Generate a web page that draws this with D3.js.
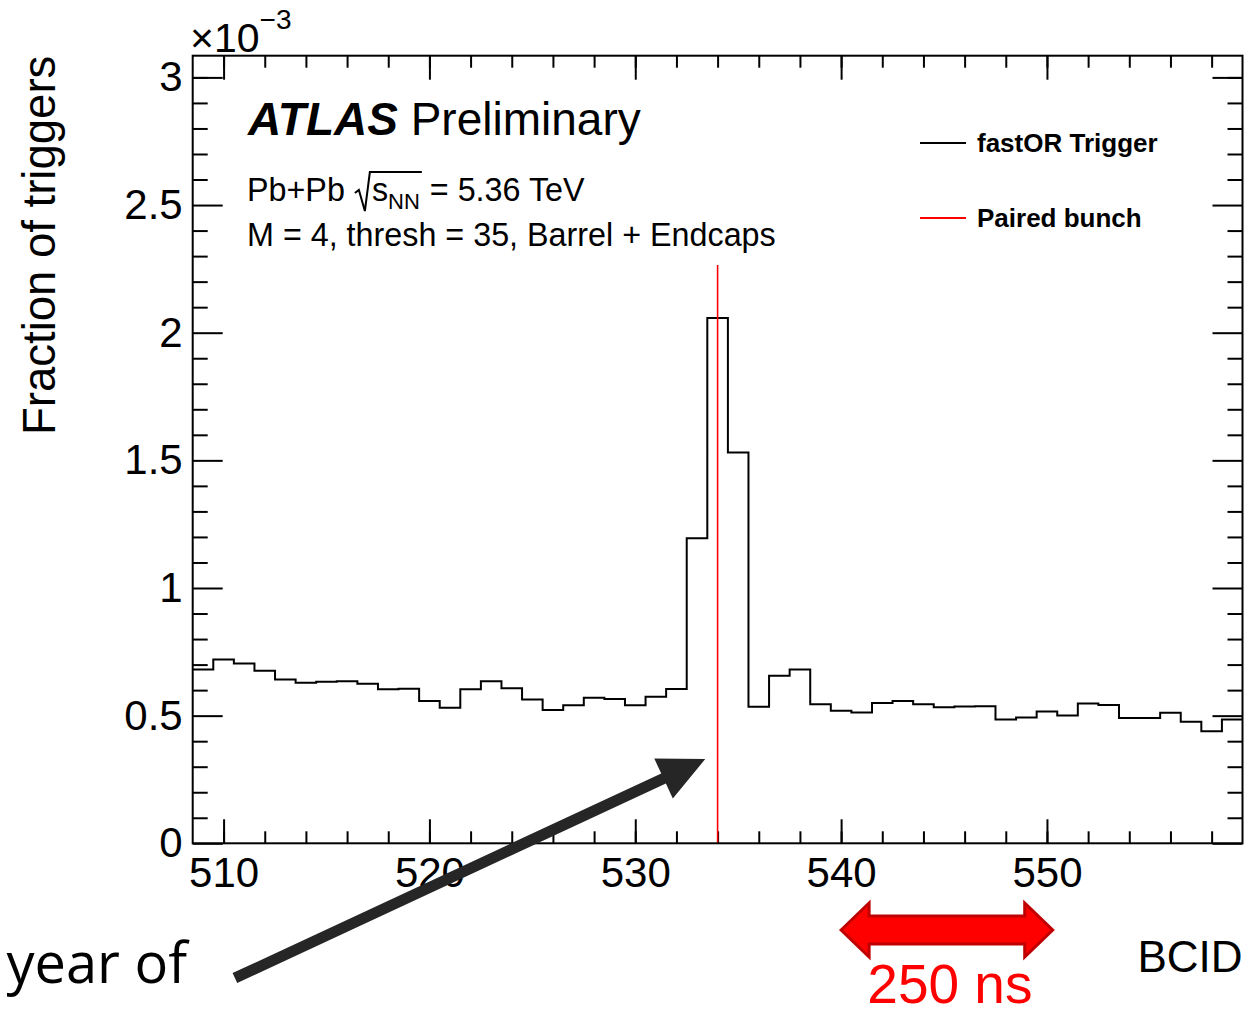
<!DOCTYPE html>
<html lang="en">
<head>
    <title>fastOR trigger BCID</title>
    <meta charset="utf-8">
    <script src="https://d3js.org/d3.v7.min.js"></script>
    <style>
        body { margin: 0; background: #fff; }
        svg { display: block; font-family: "Liberation Sans", Arial, Helvetica, sans-serif; }
    </style>
</head>
<body>
<div id="chart"></div>

<script>
    // bin centres (BCID) and fraction of triggers, in units of 1e-3
    const bcid = [509, 510, 511, 512, 513, 514, 515, 516, 517, 518, 519, 520, 521, 522, 523, 524,
        525, 526, 527, 528, 529, 530, 531, 532, 533, 534, 535, 536, 537, 538, 539, 540, 541, 542,
        543, 544, 545, 546, 547, 548, 549, 550, 551, 552, 553, 554, 555, 556, 557, 558, 559];
    const fracE3 = [0.681, 0.720, 0.704, 0.676, 0.642, 0.629, 0.633, 0.635, 0.625, 0.603, 0.605,
        0.557, 0.531, 0.603, 0.635, 0.607, 0.563, 0.522, 0.541, 0.570, 0.565, 0.541, 0.574, 0.604,
        1.195, 2.058, 1.531, 0.535, 0.656, 0.681, 0.545, 0.519, 0.512, 0.550, 0.557, 0.545, 0.533,
        0.536, 0.537, 0.485, 0.493, 0.516, 0.501, 0.548, 0.542, 0.491, 0.491, 0.511, 0.476, 0.439,
        0.485];

    const pairedBunch = 534;
    const pairedLineTop = 2.265;

    const xMajor = [510, 520, 530, 540, 550];
    const xMinor = [510, 512, 514, 516, 518, 520, 522, 524, 526, 528, 530, 532, 534, 536, 538,
        540, 542, 544, 546, 548, 550, 552, 554, 556, 558];
    const yMajor = [0, 0.5, 1, 1.5, 2, 2.5, 3];
    const yMinor = [0.1, 0.2, 0.3, 0.4, 0.6, 0.7, 0.8, 0.9, 1.1, 1.2, 1.3, 1.4, 1.6, 1.7, 1.8,
        1.9, 2.1, 2.2, 2.3, 2.4, 2.6, 2.7, 2.8, 2.9, 3.0];

    const legendLabels = ["fastOR Trigger", "Paired bunch"];
    const legendColors = ["#000", "#ff0000"];

    const width = 1259, height = 1016;
    const margin = {top: 55.7, right: 16.5, bottom: 172.7, left: 192.7};

    const svg = d3.select("#chart").append("svg")
        .attr("width", width).attr("height", height);

    const x = d3.scaleLinear()
        .domain([508.5, 559.5])
        .range([margin.left, width - margin.right]);
    const y = d3.scaleLinear()
        .domain([0, 3.085])
        .range([height - margin.bottom, margin.top]);

    const x0 = margin.left, x1 = width - margin.right;
    const y0 = height - margin.bottom, y1 = margin.top;

    // ticks, ROOT style: inside, mirrored on all four sides
    const tickStyle = g => g.call(g => g.select(".domain").remove())
        .call(g => g.selectAll(".tick line").attr("stroke", "#000").attr("stroke-width", 2));

    svg.append("g").attr("transform", `translate(0,${y0})`)
        .call(d3.axisBottom(x).tickValues(xMinor).tickSize(-12).tickFormat(""))
        .call(tickStyle);
    svg.append("g").attr("transform", `translate(0,${y0})`)
        .call(d3.axisBottom(x).tickValues(xMajor).tickSize(-24).tickPadding(14).tickFormat(d3.format("d")))
        .call(tickStyle)
        .call(g => g.selectAll("text").attr("font-size", 42).attr("fill", "#000").attr("font-family", null));
    svg.append("g").attr("transform", `translate(0,${y1})`)
        .call(d3.axisTop(x).tickValues(xMinor).tickSize(-12).tickFormat(""))
        .call(tickStyle);
    svg.append("g").attr("transform", `translate(0,${y1})`)
        .call(d3.axisTop(x).tickValues(xMajor).tickSize(-24).tickFormat(""))
        .call(tickStyle);

    svg.append("g").attr("transform", `translate(${x0},0)`)
        .call(d3.axisLeft(y).tickValues(yMinor).tickSize(-15).tickFormat(""))
        .call(tickStyle);
    svg.append("g").attr("transform", `translate(${x0},0)`)
        .call(d3.axisLeft(y).tickValues(yMajor).tickSize(-30).tickPadding(10).tickFormat(d3.format("")))
        .call(tickStyle)
        .call(g => g.selectAll("text").attr("font-size", 42).attr("fill", "#000").attr("font-family", null));
    svg.append("g").attr("transform", `translate(${x1},0)`)
        .call(d3.axisRight(y).tickValues(yMinor).tickSize(-15).tickFormat(""))
        .call(tickStyle);
    svg.append("g").attr("transform", `translate(${x1},0)`)
        .call(d3.axisRight(y).tickValues(yMajor).tickSize(-30).tickFormat(""))
        .call(tickStyle);

    // histogram as a step outline
    const steps = [];
    bcid.forEach((b, i) => {
        steps.push([b - 0.5, fracE3[i]]);
        steps.push([b + 0.5, fracE3[i]]);
    });
    const line = d3.line().x(d => x(d[0])).y(d => y(d[1]));
    svg.append("path")
        .attr("d", line(steps))
        .attr("fill", "none")
        .attr("stroke", "#000")
        .attr("stroke-width", 2);

    // paired bunch marker
    svg.append("line")
        .attr("x1", x(pairedBunch)).attr("x2", x(pairedBunch))
        .attr("y1", y(pairedLineTop)).attr("y2", y(0))
        .attr("stroke", "#ff0000").attr("stroke-width", 1.6);

    // frame
    svg.append("rect")
        .attr("x", x0).attr("y", y1)
        .attr("width", x1 - x0).attr("height", y0 - y1)
        .attr("fill", "none").attr("stroke", "#000").attr("stroke-width", 2);

    // axis titles
    svg.append("text")
        .attr("transform", `translate(55,${y1}) rotate(-90)`)
        .attr("text-anchor", "end")
        .attr("font-size", 45.5)
        .text("Fraction of triggers");
    svg.append("text")
        .attr("x", x1).attr("y", 972)
        .attr("text-anchor", "end")
        .attr("font-size", 44)
        .text("BCID");

    const exp = svg.append("text").attr("x", 190).attr("y", 52).attr("font-size", 41);
    exp.append("tspan").text("\u00d710");
    exp.append("tspan").attr("dy", -23).attr("font-size", 28).text("\u22123");

    // ATLAS label
    const atlas = svg.append("text").attr("x", 248).attr("y", 135).attr("font-size", 46);
    atlas.append("tspan").attr("font-weight", "bold").attr("font-style", "italic").text("ATLAS");
    atlas.append("tspan").text(" Preliminary");

    // Pb+Pb sqrt(s_NN) line, pieces placed one after another
    const fs = 32.3, base = 201;
    let cx = 247;
    const piece = (txt, size, dy) => {
        const t = svg.append("text").attr("x", cx).attr("y", base + dy).attr("font-size", size).text(txt);
        cx += t.node().getComputedTextLength();
        return t;
    };
    piece("Pb+Pb", fs, 0);
    const rootX = cx + 10;
    cx = rootX + 17;
    piece("s", fs, 0);
    piece("NN", 22, 8);
    const rootEnd = cx + 2;
    cx += 10;
    piece("= 5.36 TeV", fs, 0);
    svg.append("path")
        .attr("d", `M${rootX},${base - 8} L${rootX + 4},${base - 11} L${rootX + 10},${base + 10} L${rootX + 15},${base - 29} L${rootEnd},${base - 29}`)
        .attr("fill", "none").attr("stroke", "#000").attr("stroke-width", 2);

    svg.append("text").attr("x", 247).attr("y", 246).attr("font-size", fs)
        .text("M = 4, thresh = 35, Barrel + Endcaps");

    // legend
    const legend = svg.append("g").selectAll("g")
        .data(legendLabels)
        .join("g")
        .attr("transform", (d, i) => `translate(920,${143 + i * 75})`);
    legend.append("line")
        .attr("x1", 0).attr("x2", 46)
        .attr("stroke", (d, i) => legendColors[i])
        .attr("stroke-width", 2);
    legend.append("text")
        .attr("x", 57).attr("y", 9)
        .attr("font-size", 26).attr("font-weight", "bold")
        .text(d => d);

    // slide annotations on top of the plot
    function arrowPoly(tail, tip, shaftW, headL, headW) {
        const dx = tip[0] - tail[0], dy = tip[1] - tail[1];
        const len = Math.hypot(dx, dy);
        const u = [dx / len, dy / len], n = [-u[1], u[0]];
        const b = [tip[0] - headL * u[0], tip[1] - headL * u[1]];
        const p = (o, k) => [o[0] + k * n[0], o[1] + k * n[1]];
        return [p(tail, shaftW), p(b, shaftW), p(b, headW), tip, p(b, -headW), p(b, -shaftW), p(tail, -shaftW)];
    }
    const tail = [x(510.55), y(-0.528)];
    const tip = [x(533.4), y(0.33)];
    svg.append("polygon")
        .attr("points", arrowPoly(tail, tip, 5.5, 46, 22).map(d => d.join(",")).join(" "))
        .attr("fill", "#262626");

    svg.append("text")
        .attr("x", 187).attr("y", 983)
        .attr("text-anchor", "end")
        .attr("font-family", "'Open Sans', sans-serif")
        .attr("font-size", 56)
        .text("year of");

    // 250 ns double arrow spanning 10 bunch crossings
    const ax0 = x(540), ax1 = x(550.28), ay = 930;
    const hl = 28, hw = 27, sw = 14;
    const dbl = [[ax0, ay], [ax0 + hl, ay - hw], [ax0 + hl, ay - sw], [ax1 - hl, ay - sw], [ax1 - hl, ay - hw],
        [ax1, ay], [ax1 - hl, ay + hw], [ax1 - hl, ay + sw], [ax0 + hl, ay + sw], [ax0 + hl, ay + hw]];
    svg.append("polygon")
        .attr("points", dbl.map(d => d.join(",")).join(" "))
        .attr("fill", "#ff0000")
        .attr("stroke", "#c00000")
        .attr("stroke-width", 3)
        .attr("stroke-linejoin", "miter");
    svg.append("text")
        .attr("x", (ax0 + ax1) / 2 + 3).attr("y", 1003)
        .attr("text-anchor", "middle")
        .attr("font-size", 55)
        .attr("fill", "#ff0000")
        .text("250 ns");
</script>
</body>
</html>
